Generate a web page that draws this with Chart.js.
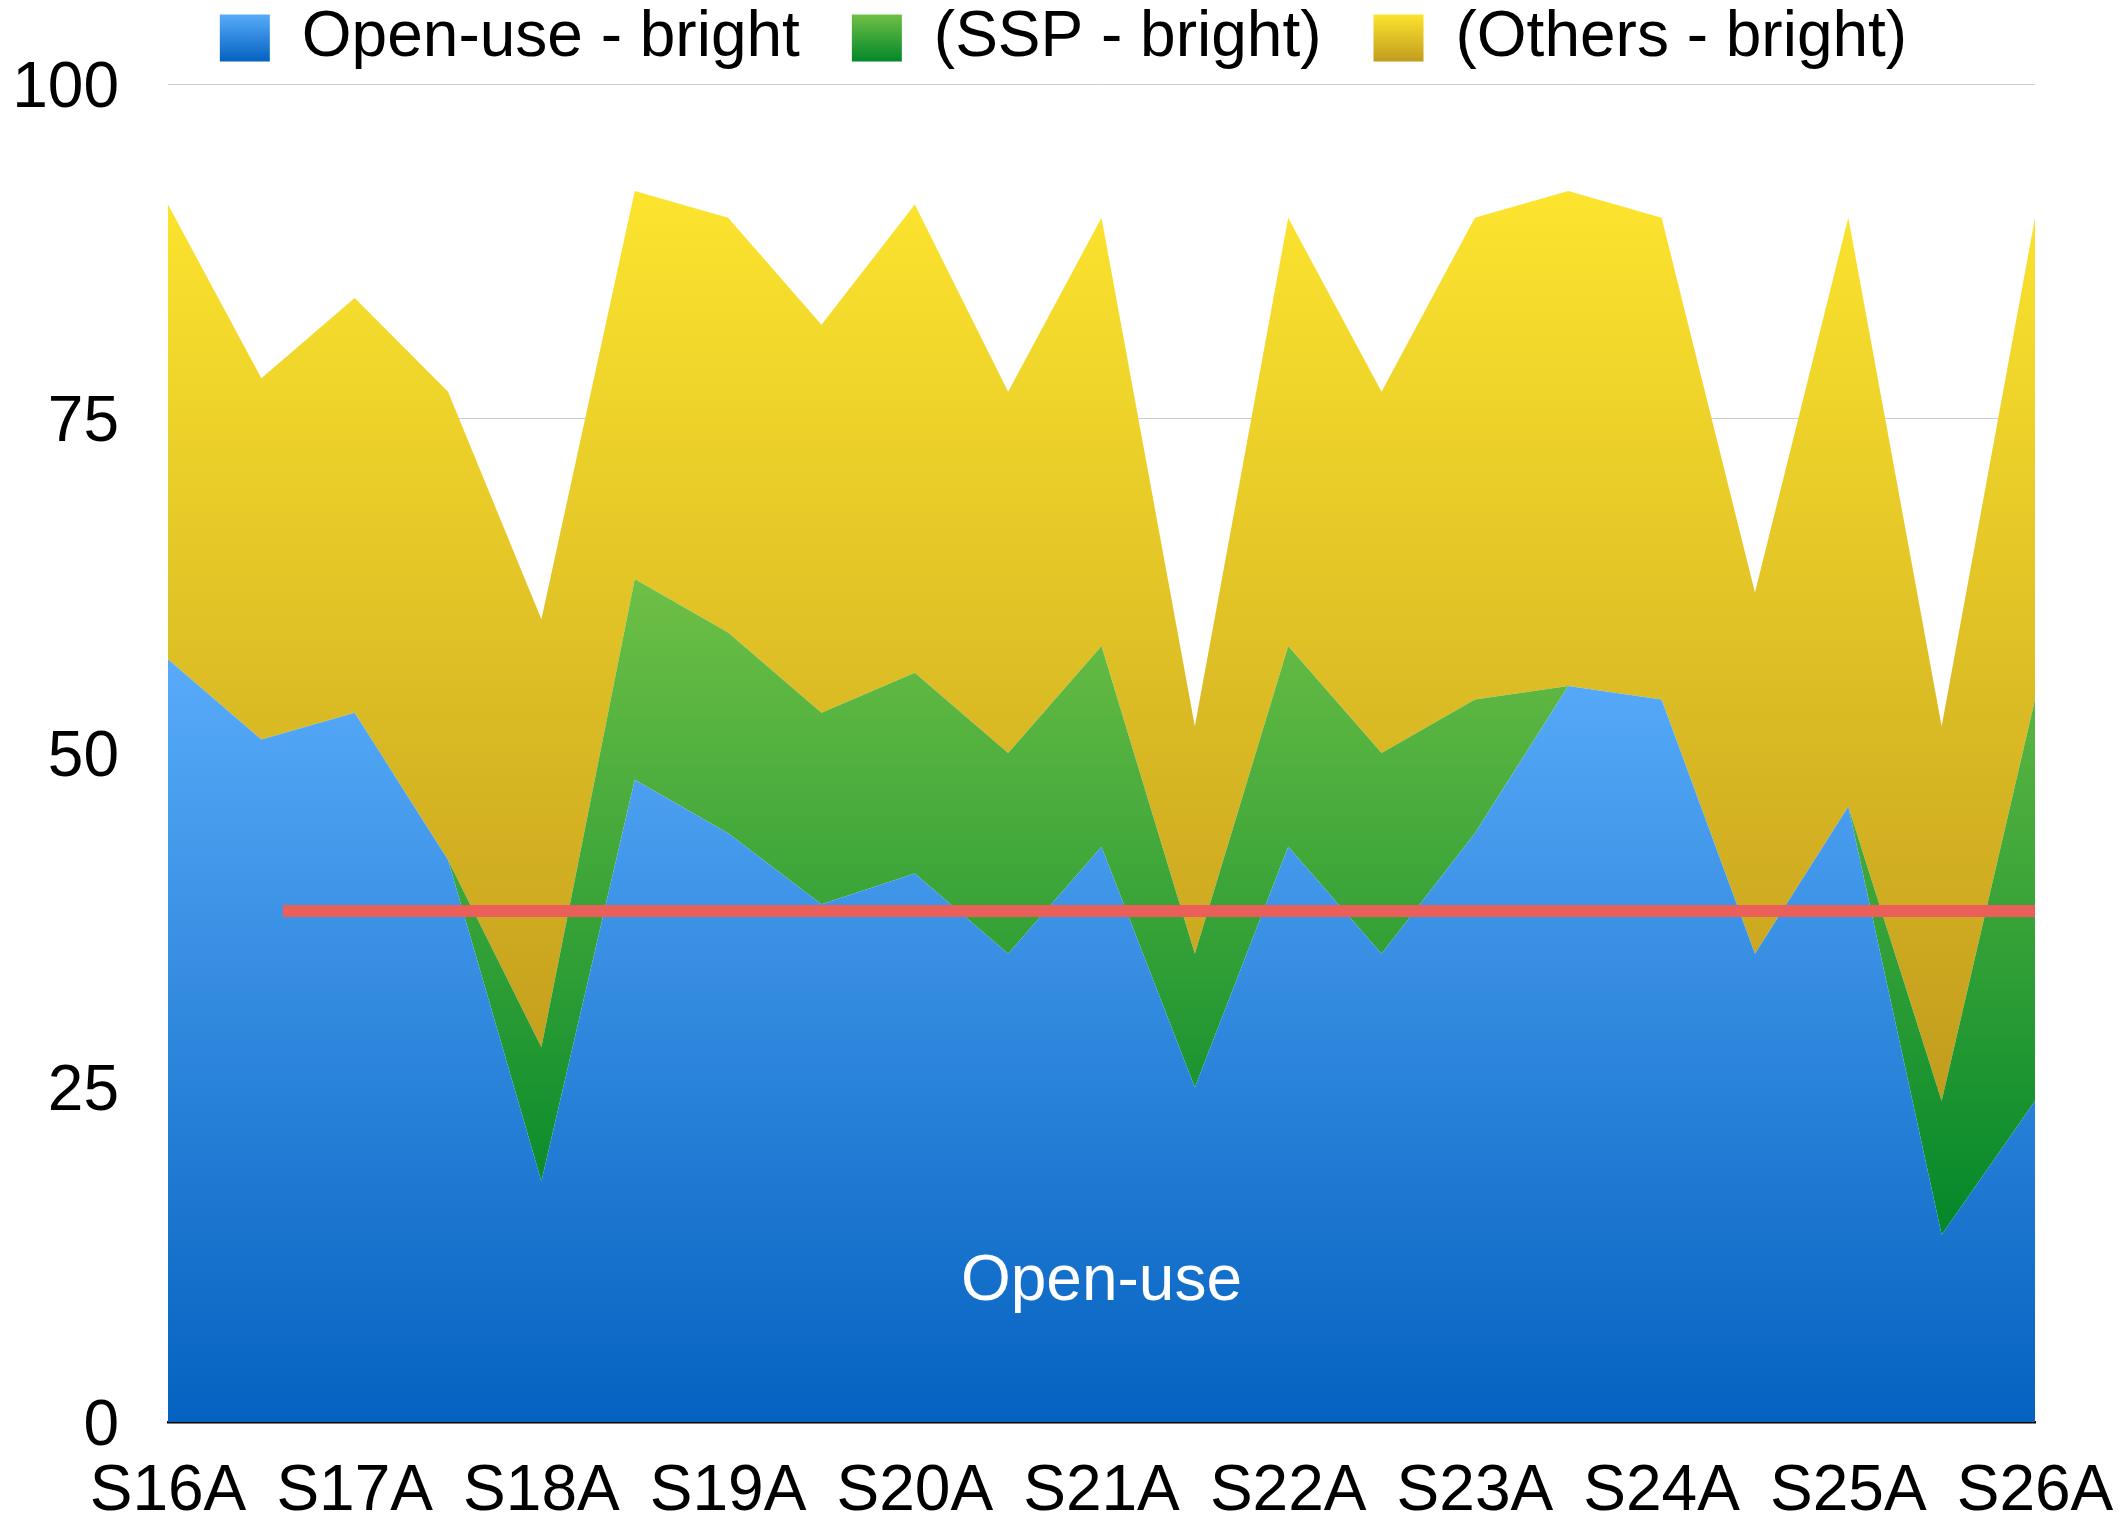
<!DOCTYPE html>
<html><head><meta charset="utf-8">
<script src="https://cdn.jsdelivr.net/npm/chart.js@4/dist/chart.umd.min.js"></script>
<style>html,body{margin:0;padding:0;background:#fff}#wrap{width:2127px;height:1522px}</style>
</head><body><div id="wrap"><canvas id="c" width="2127" height="1522"></canvas></div>
<script>
const categories = ['S16A','S16B','S17A','S17B','S18A','S18B','S19A','S19B','S20A','S20B','S21A','S21B','S22A','S22B','S23A','S23B','S24A','S24B','S25A','S25B','S26A'];
const xTickLabels = ['S16A','S17A','S18A','S19A','S20A','S21A','S22A','S23A','S24A','S25A','S26A'];
const openUse = [57,51,53,42,18,48,44,38.7,41,35,43,25,43,35,44,55,54,35,46,14,24];
const ssp     = [0,0,0,0,10,15,15,14.3,15,15,15,10,15,15,10,0,0,0,0,10,30];
const others  = [34,27,31,35,32,29,31,29,35,27,32,17,32,27,36,37,36,27,44,28,36];
const seriesNames = ['Open-use - bright','(SSP - bright)','(Others - bright)'];
const yTicks = [0,25,50,75,100];
const refLineX = [1.23, 20];
const refLineY = [38.2, 38.2];
const areaLabelText = 'Open-use';
const areaLabelIndex = 10;
const areaLabelValue = 10.4;

const FONT = "'Liberation Sans', Arial, Helvetica, sans-serif";
Chart.defaults.font.family = FONT;
Chart.defaults.color = '#000';

const gradColors = [
  ['#58abf9', '#0562c0'],
  ['#6fc046', '#03872a'],
  ['#fce42e', '#c29c1d']
];
const seriesList = [openUse, ssp, others];
function extents(k) {
  let top = -Infinity, bottom = Infinity;
  for (let i = 0; i < categories.length; i++) {
    let below = 0;
    for (let j = 0; j < k; j++) below += seriesList[j][i];
    const above = below + seriesList[k][i];
    if (seriesList[k][i] > 0) { top = Math.max(top, above); bottom = Math.min(bottom, below); }
  }
  return [top, bottom];
}
function areaGradient(k) {
  return function(ctx) {
    const chart = ctx.chart;
    if (!chart.chartArea || !chart.scales.y) return gradColors[k][0];
    const [top, bottom] = extents(k);
    const y = chart.scales.y;
    const g = chart.ctx.createLinearGradient(0, y.getPixelForValue(top), 0, y.getPixelForValue(bottom));
    g.addColorStop(0, gradColors[k][0]);
    g.addColorStop(1, gradColors[k][1]);
    return g;
  };
}

const legendTweakPlugin = {
  id: 'legendTweak',
  beforeLayout(chart) {
    const lg = chart.legend;
    if (lg && !lg._patched) {
      const orig = lg.fit;
      lg.fit = function() { orig.call(this); this.height += 4; };
      lg._patched = true;
    }
  },
  beforeDraw(chart) {
    const lg = chart.legend;
    if (!lg || !lg.legendItems) return;
    const opts = lg.options.labels;
    const fs = opts.font.size || 64;
    lg.legendItems.forEach((item, i) => {
      const hb = lg.legendHitBoxes[i];
      if (!hb) return;
      const top = hb.top + Math.max((fs - opts.boxHeight) / 2, 0);
      const g = chart.ctx.createLinearGradient(0, top, 0, top + opts.boxHeight);
      g.addColorStop(0, gradColors[item.datasetIndex][0]);
      g.addColorStop(1, gradColors[item.datasetIndex][1]);
      item.fillStyle = g;
      item.lineWidth = 0;
    });
  }
};

const areaLabelPlugin = {
  id: 'areaLabel',
  afterDatasetsDraw(chart) {
    const ctx = chart.ctx;
    const x = chart.scales.x.getPixelForValue(areaLabelIndex);
    const y = chart.scales.y.getPixelForValue(areaLabelValue);
    ctx.save();
    ctx.font = '64px ' + FONT;
    ctx.fillStyle = '#ffffff';
    ctx.textAlign = 'center';
    ctx.textBaseline = 'middle';
    ctx.fillText(areaLabelText, x, y);
    ctx.restore();
  }
};

new Chart(document.getElementById('c'), {
  type: 'line',
  data: {
    labels: categories,
    datasets: [
      { label: seriesNames[0], data: openUse, fill: 'origin', backgroundColor: areaGradient(0), borderWidth: 0, pointRadius: 0, tension: 0, order: 1, stack: 'a' },
      { label: seriesNames[1], data: ssp, fill: '-1', backgroundColor: areaGradient(1), borderWidth: 0, pointRadius: 0, tension: 0, order: 1, stack: 'a' },
      { label: seriesNames[2], data: others, fill: '-1', backgroundColor: areaGradient(2), borderWidth: 0, pointRadius: 0, tension: 0, order: 1, stack: 'a' },
      { label: 'ref', xAxisID: 'x2', data: refLineX.map((x, i) => ({x: x, y: refLineY[i]})), borderColor: '#ea5f59', borderWidth: 12, pointRadius: 0, fill: false, order: 0, stack: 'ref', borderCapStyle: 'butt' }
    ]
  },
  options: {
    responsive: false,
    animation: false,
    devicePixelRatio: 1,
    layout: { padding: { top: -46, left: 12, right: 12, bottom: 0 } },
    scales: {
      x: {
        type: 'category',
        offset: false,
        grid: { display: false, drawTicks: false },
        border: { display: true, color: '#000', width: 2.5 },
        ticks: {
          autoSkip: false, maxRotation: 0, minRotation: 0, padding: 38,
          font: { size: 64, lineHeight: 1 }, color: '#000',
          callback: (v, i) => xTickLabels.includes(categories[i]) ? categories[i] : null
        },
        afterFit: (s) => { s.height = 100; s.paddingLeft = 0; s.paddingRight = 92; }
      },
      x2: { type: 'linear', display: false, min: 0, max: categories.length - 1 },
      y: {
        stacked: true, min: yTicks[0], max: yTicks[yTicks.length - 1],
        afterBuildTicks: (s) => { s.ticks = yTicks.map(v => ({ value: v })); },
        grid: { color: (c) => c.tick && c.tick.value === 0 ? 'rgba(0,0,0,0)' : '#cccccc', lineWidth: 1, drawTicks: false },
        border: { display: false },
        ticks: { padding: 49, labelOffset: 5, font: { size: 64, lineHeight: 1.2 }, color: '#000' },
        afterFit: (s) => { s.width = 156; s.paddingTop = 0; s.paddingBottom = 0; }
      }
    },
    plugins: {
      legend: {
        position: 'top', align: 'center',
        labels: {
          boxWidth: 50, boxHeight: 47, padding: 52, color: '#000',
          font: { size: 64 },
          filter: (item) => item.datasetIndex < 3
        }
      },
      tooltip: { enabled: false }
    }
  },
  plugins: [legendTweakPlugin, areaLabelPlugin]
});
</script></body></html>
